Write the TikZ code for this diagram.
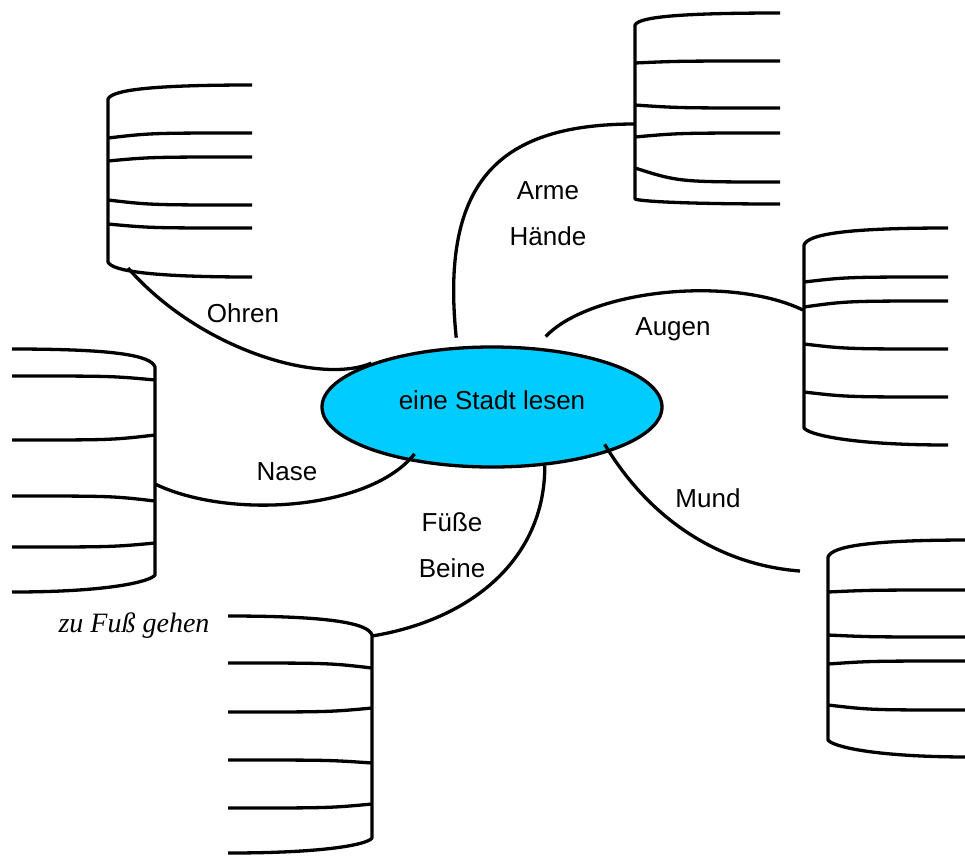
\documentclass[tikz,border=0pt]{standalone}
\usepackage{fontspec}
\newfontfamily\arial{Liberation Sans}
\newfontfamily\serifhand{Liberation Serif}
\usetikzlibrary{shapes.geometric}
\definecolor{stadtblue}{RGB}{0,204,255}
\begin{document}
\begin{tikzpicture}[x=1pt, y=-1pt,
                    line width=3.3pt,
                    shelf/.style={line cap=butt, line join=round},
                    hub/.style={ellipse, draw, fill=stadtblue,
                                minimum width=340pt, minimum height=120pt,
                                inner sep=0pt, text depth=13pt,
                                font=\arial\fontsize{26}{31}\selectfont},
                    word/.style={anchor=base, align=center,
                                 font=\arial\fontsize{26}{46}\selectfont},
                    hand/.style={anchor=base,
                                 font=\serifhand\itshape\fontsize{28}{33}\selectfont}]
    \useasboundingbox (0,0) rectangle (965,855);
    \draw[shelf] (252,85) .. controls (151,85) and (112,90) .. (108,99) -- (108,262)
                 .. controls (112,271) and (151,277) .. (252,277);
    \draw[shelf] (108,138) .. controls (151,133) .. (252,133)
                 (108,161) .. controls (151,157) .. (252,157)
                 (108,200) .. controls (151,205) .. (252,205)
                 (108,224) .. controls (151,228) .. (252,228);
    \draw[shelf] (12,349) .. controls (112,349) and (151,355) .. (155,367) -- (155,575)
                 .. controls (151,581) and (112,592) .. (12,592);
    \draw[shelf] (155,380) .. controls (112,376) .. (12,376)
                 (155,435) .. controls (112,440) .. (12,440)
                 (155,501) .. controls (112,496) .. (12,496)
                 (155,543) .. controls (112,547) .. (12,547);
    \draw[shelf] (228,616) .. controls (329,616) and (368,623) .. (372,635) -- (372,838)
                 .. controls (368,844) and (329,853) .. (228,853);
    \draw[shelf] (372,668) .. controls (329,663) .. (228,663)
                 (372,708) .. controls (329,712) .. (228,712)
                 (372,763) .. controls (329,760) .. (228,760)
                 (372,804) .. controls (329,808) .. (228,808);
    \draw[shelf] (780,13) .. controls (679,13) and (639,17) .. (635,25) -- (635,199)
                 .. controls (639,201) and (679,204) .. (780,204);
    \draw[shelf] (635,63) .. controls (679,61) .. (780,61)
                 (635,105) .. controls (679,108) .. (780,108)
                 (635,137) .. controls (679,133) .. (780,133)
                 (635,168) .. controls (679,182) .. (780,182);
    \draw[shelf] (948,228) .. controls (847,228) and (808,234) .. (804,245) -- (804,428)
                 .. controls (808,434) and (847,445) .. (948,445);
    \draw[shelf] (804,282) .. controls (847,277) .. (948,277)
                 (804,307) .. controls (847,301) .. (948,301)
                 (804,344) .. controls (847,349) .. (948,349)
                 (804,392) .. controls (847,397) .. (948,397);
    \draw[shelf] (970,540) .. controls (871,540) and (832,546) .. (828,557) -- (828,740)
                 .. controls (832,746) and (871,757) .. (970,757);
    \draw[shelf] (828,592) .. controls (871,590) .. (970,590)
                 (828,635) .. controls (871,637) .. (970,637)
                 (828,664) .. controls (871,661) .. (970,661)
                 (828,705) .. controls (871,710) .. (970,710);
    \coordinate (ohrenshelf) at (128,268);
    \coordinate (armeshelf) at (635,124);
    \coordinate (augenshelf) at (803,310);
    \coordinate (naseshelf) at (155,484);
    \coordinate (fuesseshelf) at (372,636);
    \coordinate (mundend) at (800,571);
    \node[hub] (stadt) at (492,407) {eine Stadt lesen};
    \draw (ohrenshelf) .. controls (200,350) and (320,385) .. (stadt.160);
    \draw[shorten <=9pt] (stadt.120) .. controls (440,180) and (500,124) .. (armeshelf);
    \draw[shorten <=15pt] (stadt.54) .. controls (590,290) and (730,275) .. (augenshelf);
    \draw[shorten <=-9pt] (stadt.213) .. controls (370,510) and (230,520) .. (naseshelf);
    \draw (stadt.312) .. controls (545,560) and (470,620) .. (fuesseshelf);
    \draw[shorten <=-9pt] (stadt.339) .. controls (650,520) and (720,565) .. (mundend);
    \node[word] (ohren) at (243,322) {Ohren};
    \node[word] (arme) at (548,245) {Arme\\Hände};
    \node[word] (augen) at (673,335) {Augen};
    \node[word] (nase) at (287,480) {Nase};
    \node[word] (fuesse) at (452,577) {Füße\\Beine};
    \node[word] (mund) at (708,507) {Mund};
    \node[hand] (gehen) at (134,632) {zu Fuß gehen};
\end{tikzpicture}
\end{document}
